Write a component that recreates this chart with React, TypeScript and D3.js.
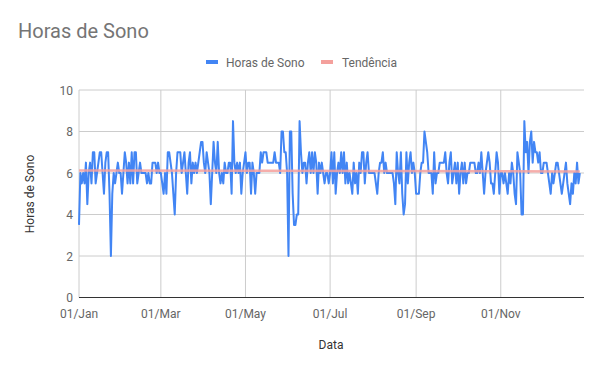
import React from "react";
import * as d3 from "d3";

const title = "Horas de Sono";
const seriesName = "Horas de Sono";
const trendName = "Tendência";
const xTitle = "Data";
const yTitle = "Horas de Sono";
const startDate = new Date(2019, 0, 1);
const endDate = new Date(2019, 11, 31);
const tickMonths = [0, 2, 4, 6, 8, 10];
const tickLabels = ["01/Jan", "01/Mar", "01/May", "01/Jul", "01/Sep", "01/Nov"];
const yTicks = [0, 2, 4, 6, 8, 10];

// daily sleep hours, starting 01/Jan
const hours = [
  3.5, 6, 5.5, 6, 5.5, 6.5, 4.5, 6, 6.5, 5.5, 7, 7, 5.5, 6, 6.5, 7, 7, 6, 5, 6.5,
  7, 7, 5, 2, 5, 6, 5.5, 6, 6.5, 6, 6, 5, 6, 7, 6.5, 5.5, 6.5, 5.5, 7, 5.5,
  7, 7, 5.5, 6, 6.5, 6, 6, 6, 6, 5.5, 6, 5.5, 5.5, 6.5, 6.5, 6.5, 6, 6.5, 6, 6,
  5.5, 5, 6, 5, 7, 7, 6.5, 6, 5, 4, 6, 7, 7, 7, 6, 6.5, 7, 6, 5, 6.5,
  7, 5.5, 6.5, 6, 6.5, 6, 6.5, 7, 7.5, 7.5, 6.5, 6, 7, 6.5, 6, 4.5, 6, 7.5, 6.5, 6,
  7.5, 6, 5.5, 6, 5.5, 6.5, 6, 6, 6.5, 6.5, 5, 8.5, 6.5, 6, 6.5, 6, 6.5, 5, 6, 6.5,
  7, 6, 6.5, 6.5, 5, 6.5, 6, 5, 6, 6, 6, 7, 6.5, 7, 7, 7, 6.5, 6.5, 6.5, 6.5,
  6.5, 7, 6.5, 6.5, 6.5, 6, 8, 8, 7, 7, 6, 2, 8, 8, 5, 3.5, 3.5, 4, 4, 8.5,
  7, 6, 6.5, 6.5, 5.5, 6.5, 7, 6, 7, 6, 7, 6.5, 5, 6.5, 6, 6.5, 6, 5.5, 6, 6,
  5.5, 6, 7, 5.5, 7, 5, 6, 6.5, 6, 7, 6, 7, 5.5, 6.5, 5.5, 6, 5.5, 5, 6.5, 5.5,
  6, 5, 6.5, 6, 7, 7, 5.5, 6.5, 7, 6, 6, 6, 6, 6, 5.5, 5, 6, 6.5, 6.5, 7,
  6, 6.5, 6, 6, 6, 6, 6, 5.5, 4.5, 7, 6, 5.5, 7, 5, 4, 4.5, 7, 5.5, 6.5, 7,
  6, 6.5, 6, 5, 5, 5, 6, 6.5, 6.5, 8, 7.5, 7, 6, 6, 6, 5, 7, 5.5, 6, 6,
  6.5, 6.5, 6.5, 6.5, 7, 6, 5.5, 6.5, 7, 5.5, 6, 6.5, 5.5, 6.5, 5, 6, 6.5, 5.5, 6.5, 5.5,
  6, 6, 6.5, 6.5, 6.5, 6.5, 6, 6, 6.5, 6, 7, 6, 5, 6, 6.5, 7, 6.5, 5.5, 5.5, 5,
  6, 7, 6.5, 5, 6, 6, 5.5, 6, 5.5, 5, 6, 5.5, 6.5, 6, 5, 4.5, 7, 6.5, 6, 4,
  4, 8.5, 7, 7.5, 6, 7.5, 8, 6.5, 7.5, 7, 7, 6.5, 7, 6, 6, 6.5, 6.5, 6.5, 6, 5.5,
  5, 6, 5.5, 6, 6.5, 6.5, 6, 5.5, 5, 5.5, 6, 6.5, 5.5, 5, 4.5, 5.5, 5, 6, 5.5, 6.5,
  5.5, 6,
];

const W = 600;
const H = 371;
const font = "Roboto, 'Noto Sans', Arial, sans-serif";

export default function App() {
  const x = d3.scaleTime().domain([startDate, endDate]).range([79, 584]);
  const y = d3.scaleLinear().domain([0, 10]).range([297.5, 90]);

  const data = hours.map((v, i) => ({ date: d3.timeDay.offset(startDate, i), v, i }));

  const line = d3
    .line<{ date: Date; v: number }>()
    .x((d) => x(d.date))
    .y((d) => y(d.v));

  // least-squares trend line
  const n = data.length;
  const mx = d3.mean(data, (d) => d.i) as number;
  const my = d3.mean(data, (d) => d.v) as number;
  let sxy = 0;
  let sxx = 0;
  data.forEach((d) => {
    sxy += (d.i - mx) * (d.v - my);
    sxx += (d.i - mx) * (d.i - mx);
  });
  const slope = sxy / sxx;
  const icpt = my - slope * mx;
  const trendPts = [0, n - 1].map((i) => ({ date: d3.timeDay.offset(startDate, i), v: icpt + slope * i }));

  const tickDates = tickMonths.map((m) => new Date(2019, m, 1));

  return (
    <svg width={W} height={H} style={{ display: "block", position: "absolute", left: 0, top: 0, background: "#fff" }}>
      <rect x={0} y={0} width={W} height={H} fill="#fff" />
      <text x={18} y={38} fontFamily={font} fontSize={20} fill="#757575">
        {title}
      </text>

      {/* legend */}
      <rect x={206} y={60} width={12} height={4} fill="#4285F4" />
      <text x={226} y={66.5} fontFamily={font} fontSize={12} fill="#666">
        {seriesName}
      </text>
      <rect x={321} y={60} width={12} height={4} fill="#F4A09C" />
      <text x={342} y={66.5} fontFamily={font} fontSize={12} fill="#666">
        {trendName}
      </text>

      {/* horizontal gridlines */}
      {yTicks.map((t) => (
        <g key={"y" + t}>
          {t > 0 && <line x1={79} x2={584} y1={y(t)} y2={y(t)} stroke="#ccc" strokeWidth={1} />}
          <text x={73} y={y(t) + 4.5} textAnchor="end" fontFamily={font} fontSize={12} fill="#666">
            {t}
          </text>
        </g>
      ))}

      {/* vertical gridlines */}
      {tickDates.map((d, k) => (
        <g key={"x" + k}>
          <line x1={x(d)} x2={x(d)} y1={90} y2={297.5} stroke="#ccc" strokeWidth={1} />
          <text x={x(d)} y={318} textAnchor="middle" fontFamily={font} fontSize={12} fill="#666">
            {tickLabels[k]}
          </text>
        </g>
      ))}

      <line x1={79} x2={584} y1={y(0)} y2={y(0)} stroke="#333" strokeWidth={1} />

      <path d={line(data) || ""} fill="none" stroke="#4285F4" strokeWidth={2} strokeLinejoin="round" />
      <path d={line(trendPts) || ""} fill="none" stroke="#F4A09C" strokeWidth={2.5} opacity={0.85} />

      <text x={331} y={349} textAnchor="middle" fontFamily={font} fontSize={12} fill="#333">
        {xTitle}
      </text>
      <text
        transform={`translate(34, 194) rotate(-90)`}
        textAnchor="middle"
        fontFamily={font}
        fontSize={12}
        fill="#333"
      >
        {yTitle}
      </text>
    </svg>
  );
}
